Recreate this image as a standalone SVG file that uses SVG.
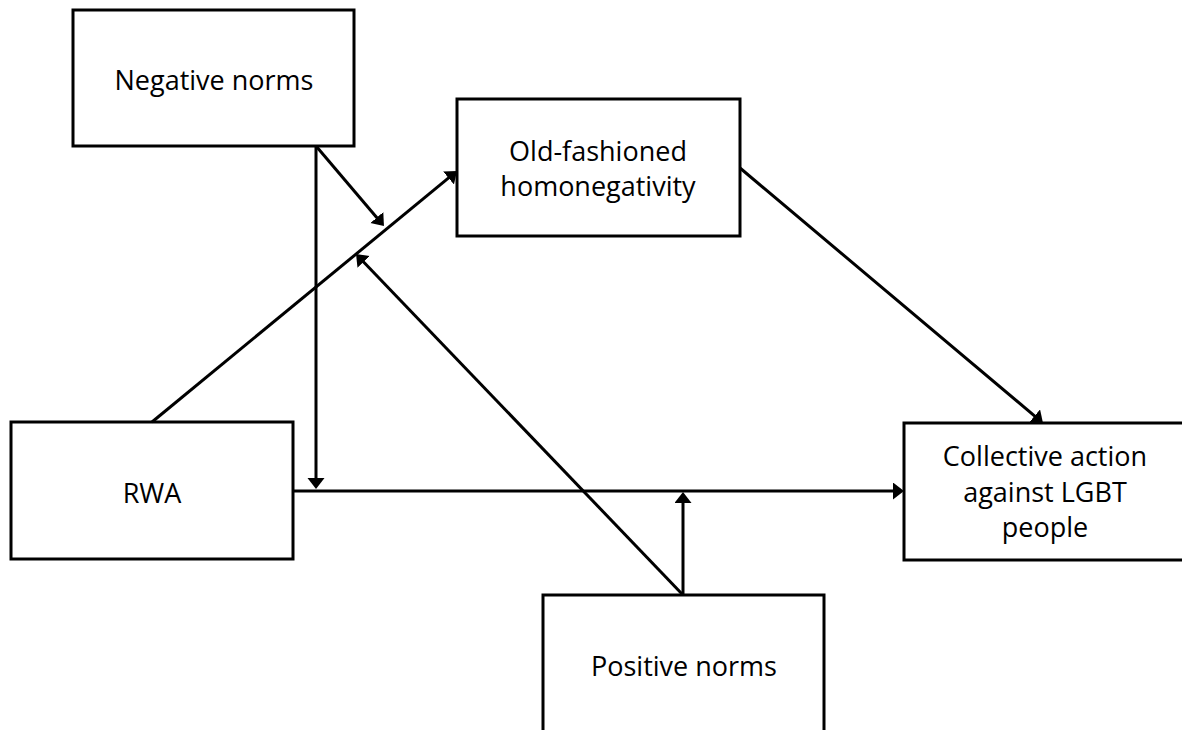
<svg xmlns="http://www.w3.org/2000/svg" width="1182" height="730" viewBox="0 0 1182 730">
<style>
.box{fill:#fff;stroke:#000;stroke-width:3}
.lbl{font-family:"Open Sans","Liberation Sans",sans-serif;font-size:27px;fill:#000;text-anchor:middle}
.c{stroke:#000;stroke-width:3;fill:none;marker-end:url(#ah)}
</style>
<defs>
<marker id="ah" markerUnits="userSpaceOnUse" markerWidth="12" markerHeight="18" refX="8" refY="8.5" orient="auto" viewBox="0 0 12 18">
<path d="M0,0 L11,8.5 L0,17 z" fill="#000"/>
</marker>
</defs>
<rect width="1182" height="730" fill="#fff"/>
<g id="n-negative">
<rect class="box" x="73" y="10" width="281" height="136"/>
<text class="lbl" x="214" y="90">Negative norms</text>
</g>
<g id="n-oldfashioned">
<rect class="box" x="457" y="99" width="283" height="137"/>
<text class="lbl" x="598" y="161">Old-fashioned</text>
<text class="lbl" x="598" y="196">homonegativity</text>
</g>
<g id="n-rwa">
<rect class="box" x="11" y="422" width="282" height="137"/>
<text class="lbl" x="152" y="503">RWA</text>
</g>
<g id="n-collective">
<rect class="box" x="904" y="423" width="290" height="137"/>
<text class="lbl" x="1045" y="466">Collective action</text>
<text class="lbl" x="1045" y="502">against LGBT</text>
<text class="lbl" x="1045" y="537">people</text>
</g>
<g id="n-positive">
<rect class="box" x="543" y="595" width="281" height="145"/>
<text class="lbl" x="684" y="676">Positive norms</text>
</g>
<g id="connectors">
<line class="c" x1="152" y1="422" x2="454.7" y2="172.9"/>
<line class="c" x1="740" y1="168" x2="1040.7" y2="421.1"/>
<line class="c" x1="293" y1="491" x2="901" y2="491"/>
<line class="c" x1="316" y1="146" x2="316" y2="486"/>
<line class="c" x1="316" y1="146" x2="382" y2="223.7"/>
<line class="c" x1="683" y1="595" x2="683" y2="495"/>
<line class="c" x1="683" y1="595" x2="358.1" y2="256.2"/>
</g>
</svg>
